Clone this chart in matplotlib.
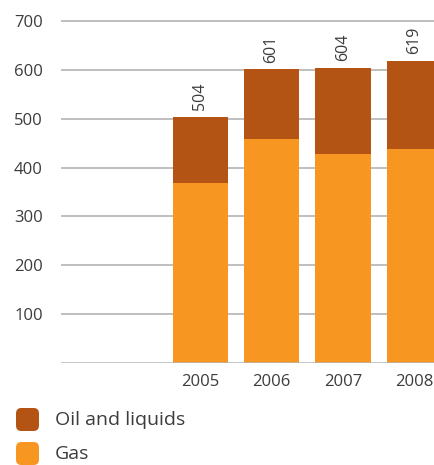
import numpy as np
import matplotlib.pyplot as plt
from matplotlib.patches import FancyBboxPatch

plt.rcParams['font.family'] = ['Open Sans', 'DejaVu Sans']

# data
years = ['2005', '2006', '2007', '2008']
gas = [369, 458, 427, 438]
totals = [504, 601, 604, 619]
oil = [t - g for t, g in zip(totals, gas)]

gas_color = '#F79722'
oil_color = '#B35415'
text_color = '#3c3c3c'

fig = plt.figure(figsize=(4.35, 4.65), dpi=100)
ax = fig.add_axes([61 / 435, 102 / 465, 1 - 61 / 435, (363 - 20) / 465])

x = np.arange(len(years))
w = 0.775
ax.bar(x, gas, width=w, color=gas_color, zorder=3)
ax.bar(x, oil, width=w, bottom=gas, color=oil_color, zorder=3)

for xi, t in zip(x, totals):
    ax.text(xi, t + 14, str(t), rotation=90, ha='center', va='bottom',
            fontsize=11.5, color=text_color)

ax.set_xlim(-1.95, 3.29)
ax.set_ylim(0, 702)
ax.set_xticks(x)
ax.set_xticklabels(years)
ax.set_yticks([100, 200, 300, 400, 500, 600, 700])

# gridlines
for v in range(100, 701, 100):
    ax.axhline(v, color='#b4b4b4', lw=1.2, zorder=1)
ax.axhline(0, color='#b4b4b4', lw=1.8, zorder=4)

for s in ax.spines.values():
    s.set_visible(False)
ax.tick_params(axis='both', length=0, labelsize=12, labelcolor=text_color)
ax.tick_params(axis='y', pad=13)
ax.tick_params(axis='x', pad=8)

# legend
for i, (lab, col) in enumerate([('Oil and liquids', oil_color), ('Gas', gas_color)]):
    y_top = 408 + i * 34
    box = FancyBboxPatch((16 / 435, 1 - (y_top + 23) / 465), 23 / 435, 23 / 465,
                         boxstyle='round,pad=0,rounding_size=0.012',
                         transform=fig.transFigure, facecolor=col, edgecolor='none')
    fig.patches.append(box)
    fig.text(55 / 435, 1 - (y_top + 12) / 465, lab, fontsize=14,
             color=text_color, va='center', ha='left')

fig.savefig('out.png', dpi=100)
